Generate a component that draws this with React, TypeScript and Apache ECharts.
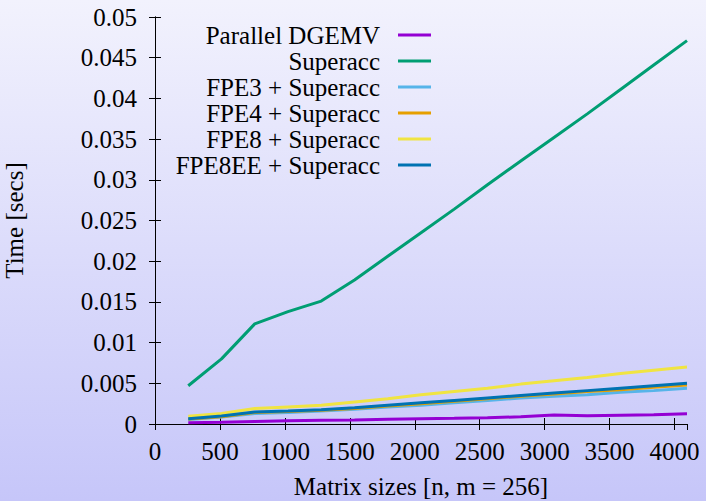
import React, { useEffect, useRef } from "react";
import * as echarts from "echarts";

const sizes = [256, 512, 768, 1024, 1280, 1536, 1792, 2048, 2304, 2560, 2816, 3072, 3328, 3584, 3840, 4096];

const seriesNames = [
  "Parallel DGEMV",
  "Superacc",
  "FPE3 + Superacc",
  "FPE4 + Superacc",
  "FPE8 + Superacc",
  "FPE8EE + Superacc",
];

const dgemv = [0.00015, 0.0002, 0.0003, 0.0004, 0.00045, 0.0005, 0.00058, 0.00065, 0.0007, 0.00078, 0.00088, 0.0011, 0.001, 0.00108, 0.00115, 0.00125];
const superacc = [0.0047, 0.008, 0.0123, 0.0138, 0.0151, 0.0177, 0.0206, 0.0235, 0.0264, 0.0294, 0.0323, 0.0352, 0.0381, 0.0411, 0.0441, 0.0471];
const fpe3 = [0.00055, 0.00085, 0.0013, 0.0014, 0.0016, 0.0018, 0.0021, 0.0023, 0.0026, 0.0029, 0.0032, 0.0034, 0.0036, 0.0039, 0.0041, 0.0044];
const fpe4 = [0.0006, 0.0009, 0.0014, 0.00155, 0.0017, 0.0019, 0.0022, 0.0025, 0.0028, 0.0031, 0.0034, 0.0037, 0.004, 0.0042, 0.0045, 0.0048];
const fpe8 = [0.00095, 0.0013, 0.0019, 0.0021, 0.0023, 0.0027, 0.0031, 0.0036, 0.004, 0.0044, 0.0049, 0.0053, 0.0057, 0.0062, 0.0066, 0.007];
const fpe8ee = [0.00065, 0.00098, 0.00147, 0.0016, 0.00176, 0.002, 0.0023, 0.0026, 0.0029, 0.0032, 0.0035, 0.0038, 0.0041, 0.0044, 0.0047, 0.005];

const seriesValues = [dgemv, superacc, fpe3, fpe4, fpe8, fpe8ee];
const seriesColors = ["#9400d3", "#009e73", "#56b4e9", "#e69f00", "#f0e442", "#0072b2"];

const xTitle = "Matrix sizes [n, m = 256]";
const yTitle = "Time [secs]";

const FONT = "Liberation Serif";

export default function App() {
  const ref = useRef<HTMLDivElement>(null);

  useEffect(() => {
    if (!ref.current) return;
    const chart = echarts.init(ref.current, undefined, { renderer: "svg" });

    const axisCommon = {
      type: "value" as const,
      axisLine: { show: true, lineStyle: { color: "#000", width: 1 } },
      axisTick: { show: true, inside: true, length: 6, lineStyle: { color: "#000", width: 1 } },
      splitLine: { show: false },
    };

    chart.setOption({
      animation: false,
      textStyle: { fontFamily: FONT },
      backgroundColor: new echarts.graphic.LinearGradient(0, 0, 0, 1, [
        { offset: 0, color: "#f2f2fd" },
        { offset: 1, color: "#c6c6f9" },
      ]),
      grid: {
        left: 155,
        right: 19,
        top: 17,
        bottom: 77,
        containLabel: false,
        outerBoundsMode: "none",
      },
      legend: {
        data: seriesNames,
        orient: "vertical",
        align: "right",
        right: 275,
        top: 22,
        padding: 0,
        itemGap: 0,
        itemWidth: 33,
        itemHeight: 3,
        icon: "rect",
        selectedMode: false,
        textStyle: {
          fontFamily: FONT,
          fontSize: 25,
          color: "#000",
          lineHeight: 26,
          padding: [0, 13, 0, 0],
        },
      },
      xAxis: [
        {
          ...axisCommon,
          position: "bottom",
          min: 0,
          max: 4096,
          interval: 500,
          name: xTitle,
          nameLocation: "middle",
          nameGap: 50,
          nameTextStyle: { fontFamily: FONT, fontSize: 25, color: "#000", lineHeight: 25 },
          axisLabel: {
            fontFamily: FONT,
            fontSize: 25,
            color: "#000",
            margin: 15,
            showMaxLabel: false,
            formatter: (v: number) => String(v),
          },
        },
        {
          ...axisCommon,
          position: "top",
          min: 0,
          max: 4096,
          interval: 500,
          axisLabel: { show: false },
        },
      ],
      yAxis: [
        {
          ...axisCommon,
          position: "left",
          min: 0,
          max: 0.05,
          interval: 0.005,
          name: yTitle,
          nameLocation: "middle",
          nameRotate: 90,
          nameGap: 128,
          nameTextStyle: { fontFamily: FONT, fontSize: 25, color: "#000" },
          axisLabel: {
            fontFamily: FONT,
            fontSize: 25,
            color: "#000",
            margin: 18,
            formatter: (v: number) => String(+v.toFixed(3)),
          },
        },
        {
          ...axisCommon,
          position: "right",
          min: 0,
          max: 0.05,
          interval: 0.005,
          axisLabel: { show: false },
        },
      ],
      series: seriesNames.map((name, i) => ({
        name,
        type: "line",
        xAxisIndex: 0,
        yAxisIndex: 0,
        data: sizes.map((s, j) => [s, seriesValues[i][j]]),
        showSymbol: false,
        symbol: "none",
        color: seriesColors[i],
        lineStyle: { color: seriesColors[i], width: 3 },
        z: 2 + i,
      })),
    });

    return () => chart.dispose();
  }, []);

  return (
    <div
      ref={ref}
      style={{ position: "fixed", left: 0, top: 0, width: 706, height: 501 }}
    />
  );
}
